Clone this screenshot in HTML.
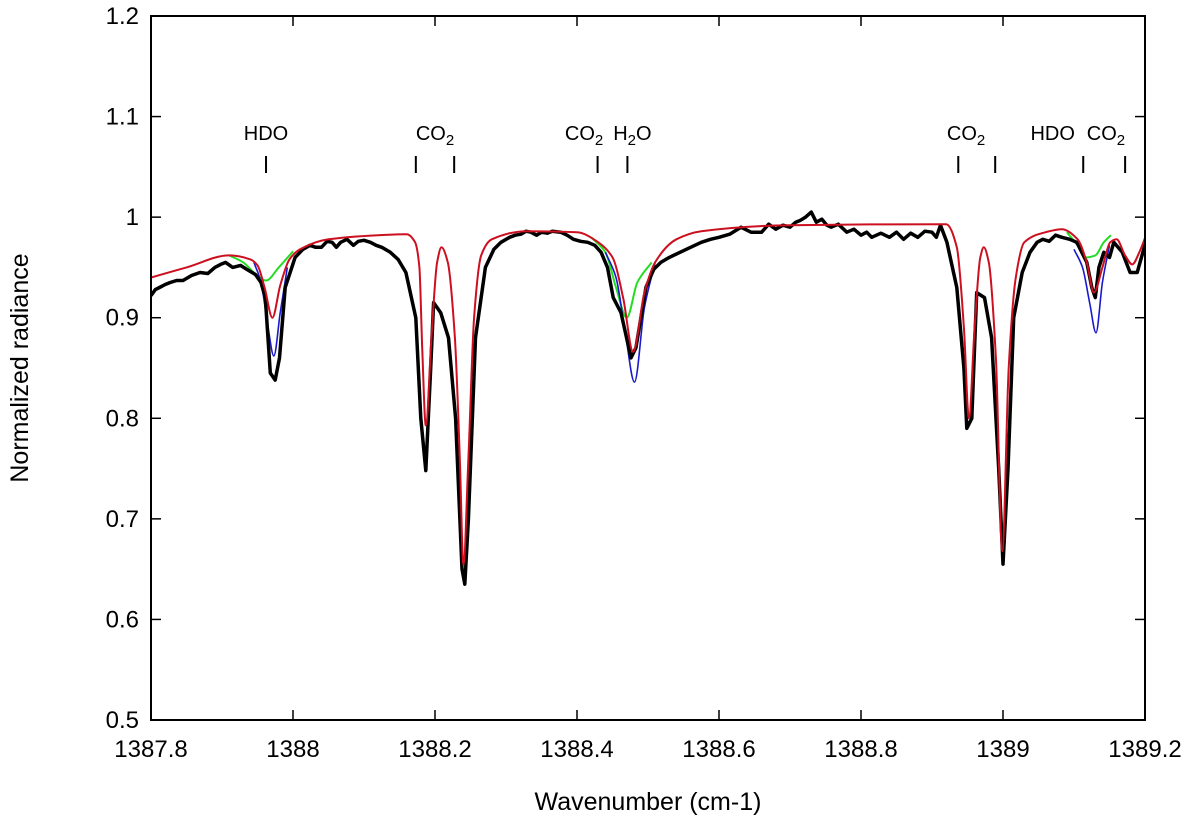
<!DOCTYPE html>
<html><head><meta charset="utf-8"><style>
html,body{margin:0;padding:0;background:#fff;}
svg{display:block;font-family:"Liberation Sans",sans-serif;}
</style></head><body>
<svg id="c" width="1200" height="826" viewBox="0 0 1200 826"></svg>
<script>
const xTicks=[1387.8,1388,1388.2,1388.4,1388.6,1388.8,1389,1389.2];
const xTickLabels=["1387.8","1388","1388.2","1388.4","1388.6","1388.8","1389","1389.2"];
const yTicks=[0.5,0.6,0.7,0.8,0.9,1,1.1,1.2];
const yTickLabels=["0.5","0.6","0.7","0.8","0.9","1","1.1","1.2"];
const obsX=[1387.800,1387.806,1387.812,1387.820,1387.827,1387.836,1387.845,1387.857,1387.869,1387.880,1387.890,1387.898,1387.905,1387.915,1387.926,1387.935,1387.947,1387.955,1387.961,1387.968,1387.975,1387.981,1387.989,1388.003,1388.014,1388.024,1388.032,1388.040,1388.048,1388.055,1388.061,1388.067,1388.076,1388.085,1388.092,1388.100,1388.109,1388.117,1388.125,1388.137,1388.148,1388.159,1388.173,1388.180,1388.187,1388.194,1388.198,1388.208,1388.219,1388.229,1388.238,1388.242,1388.247,1388.257,1388.271,1388.283,1388.293,1388.305,1388.313,1388.321,1388.328,1388.335,1388.343,1388.350,1388.358,1388.365,1388.377,1388.386,1388.395,1388.405,1388.415,1388.425,1388.434,1388.443,1388.451,1388.462,1388.476,1388.483,1388.497,1388.508,1388.518,1388.530,1388.545,1388.560,1388.575,1388.588,1388.600,1388.615,1388.631,1388.645,1388.660,1388.670,1388.680,1388.690,1388.700,1388.708,1388.715,1388.722,1388.730,1388.737,1388.745,1388.752,1388.758,1388.768,1388.780,1388.790,1388.800,1388.808,1388.815,1388.828,1388.840,1388.850,1388.860,1388.870,1388.880,1388.890,1388.900,1388.906,1388.912,1388.921,1388.935,1388.945,1388.949,1388.956,1388.963,1388.974,1388.984,1388.994,1389.000,1389.007,1389.015,1389.027,1389.038,1389.048,1389.056,1389.065,1389.074,1389.083,1389.094,1389.104,1389.118,1389.125,1389.130,1389.135,1389.142,1389.150,1389.156,1389.168,1389.179,1389.189,1389.203];
const obsY=[0.922,0.928,0.930,0.933,0.935,0.937,0.937,0.942,0.945,0.944,0.950,0.953,0.955,0.950,0.952,0.948,0.943,0.935,0.920,0.845,0.838,0.860,0.930,0.960,0.968,0.972,0.970,0.970,0.976,0.975,0.970,0.975,0.978,0.972,0.976,0.977,0.975,0.972,0.970,0.965,0.958,0.945,0.900,0.800,0.748,0.850,0.915,0.905,0.880,0.800,0.650,0.635,0.700,0.880,0.950,0.968,0.975,0.980,0.982,0.983,0.986,0.985,0.982,0.985,0.984,0.986,0.985,0.982,0.978,0.976,0.975,0.972,0.965,0.950,0.920,0.905,0.860,0.870,0.930,0.948,0.955,0.960,0.965,0.970,0.975,0.978,0.980,0.983,0.990,0.985,0.985,0.993,0.988,0.992,0.990,0.995,0.997,1.000,1.005,0.995,0.998,0.992,0.990,0.993,0.985,0.988,0.982,0.985,0.980,0.984,0.980,0.985,0.978,0.984,0.980,0.986,0.985,0.980,0.992,0.975,0.930,0.850,0.790,0.800,0.925,0.920,0.880,0.750,0.655,0.750,0.900,0.945,0.965,0.975,0.978,0.976,0.982,0.980,0.978,0.975,0.955,0.930,0.920,0.950,0.965,0.960,0.975,0.965,0.945,0.945,0.980];
const redX=[1387.800,1387.850,1387.910,1387.940,1387.950,1387.960,1387.971,1387.982,1387.995,1388.010,1388.050,1388.120,1388.160,1388.172,1388.178,1388.182,1388.187,1388.195,1388.203,1388.209,1388.218,1388.228,1388.235,1388.240,1388.247,1388.255,1388.265,1388.280,1388.330,1388.400,1388.430,1388.450,1388.465,1388.479,1388.495,1388.510,1388.540,1388.575,1388.700,1388.920,1388.935,1388.945,1388.952,1388.960,1388.968,1388.973,1388.980,1388.990,1388.999,1389.008,1389.018,1389.030,1389.060,1389.083,1389.105,1389.118,1389.128,1389.140,1389.151,1389.160,1389.172,1389.182,1389.192,1389.203];
const redY=[0.940,0.950,0.962,0.958,0.952,0.930,0.900,0.932,0.958,0.968,0.978,0.982,0.983,0.975,0.950,0.870,0.793,0.880,0.955,0.970,0.955,0.880,0.760,0.655,0.760,0.900,0.962,0.978,0.986,0.985,0.975,0.960,0.920,0.866,0.925,0.955,0.978,0.986,0.992,0.993,0.970,0.890,0.800,0.890,0.960,0.970,0.955,0.860,0.668,0.850,0.940,0.975,0.985,0.988,0.978,0.955,0.925,0.950,0.975,0.978,0.962,0.953,0.965,0.985];
const blueX=[1387.945,1387.955,1387.965,1387.973,1387.982,1387.992,1388.440,1388.455,1388.468,1388.481,1388.495,1388.510,1389.100,1389.112,1389.122,1389.131,1389.140,1389.150];
const blueY=[0.955,0.935,0.890,0.862,0.905,0.950,0.965,0.940,0.885,0.836,0.910,0.955,0.968,0.950,0.915,0.885,0.935,0.972];
const greenX=[1387.910,1387.930,1387.945,1387.962,1387.980,1388.000,1388.420,1388.440,1388.455,1388.470,1388.485,1388.505,1389.090,1389.105,1389.117,1389.130,1389.142,1389.152];
const greenY=[0.962,0.955,0.945,0.937,0.950,0.966,0.980,0.965,0.930,0.900,0.935,0.955,0.985,0.972,0.960,0.962,0.975,0.982];
const markers=[1387.962,1388.173,1388.227,1388.429,1388.471,1388.937,1388.989,1389.113,1389.172];
const markerLabels=[["HDO",1387.962],["CO2",1388.200],["CO2",1388.410],["H2O",1388.478],["CO2",1388.948],["HDO",1389.070],["CO2",1389.145]];

const L=151,R=1145,T=16,B=720;
const sx=v=>L+(v-1387.8)/(1.4)*(R-L);
const sy=v=>B-(v-0.5)/(0.7)*(B-T);
const NS="http://www.w3.org/2000/svg";
const svg=document.getElementById('c');
function mk(t,a,p){const e=document.createElementNS(NS,t);for(const k in a)e.setAttribute(k,a[k]);(p||svg).appendChild(e);return e;}
// monotone cubic (Fritsch-Carlson) path, no overshoot
function mono(xs,ys){
  const X=xs.map(sx),Y=ys.map(sy),n=X.length;
  if(n<2)return "";
  const d=[],m=new Array(n);
  for(let i=0;i<n-1;i++)d.push((Y[i+1]-Y[i])/(X[i+1]-X[i]));
  m[0]=d[0];m[n-1]=d[n-2];
  for(let i=1;i<n-1;i++){
    if(d[i-1]*d[i]<=0)m[i]=0;
    else{const h0=X[i]-X[i-1],h1=X[i+1]-X[i];const w1=2*h1+h0,w2=h1+2*h0;m[i]=(w1+w2)/(w1/d[i-1]+w2/d[i]);}
  }
  let p="M"+X[0].toFixed(1)+","+Y[0].toFixed(1);
  for(let i=0;i<n-1;i++){
    const h=(X[i+1]-X[i])/3;
    p+="C"+(X[i]+h).toFixed(1)+","+(Y[i]+m[i]*h).toFixed(1)+" "+(X[i+1]-h).toFixed(1)+","+(Y[i+1]-m[i+1]*h).toFixed(1)+" "+X[i+1].toFixed(1)+","+Y[i+1].toFixed(1);
  }
  return p;
}
function segPath(xs,ys){
  let out="",sX=[xs[0]],sY=[ys[0]];
  for(let i=1;i<xs.length;i++){
    if(xs[i]-xs[i-1]>0.1){out+=mono(sX,sY);sX=[];sY=[];}
    sX.push(xs[i]);sY.push(ys[i]);
  }
  return out+mono(sX,sY);
}
function poly(xs,ys){return "M"+xs.map((x,i)=>sx(x).toFixed(1)+","+sy(ys[i]).toFixed(1)).join("L");}

const clip=mk('clipPath',{id:'pc'});mk('rect',{x:L,y:T,width:R-L,height:B-T},clip);
const g=mk('g',{'clip-path':'url(#pc)'});


let e=mk('path',{d:segPath(greenX,greenY),fill:'none',stroke:'#22dd22','stroke-width':2},g);

e=mk('path',{d:segPath(blueX,blueY),fill:'none',stroke:'#1a1acc','stroke-width':1.6},g);

e=mk('path',{d:poly(obsX,obsY),fill:'none',stroke:'#000','stroke-width':3.5,'stroke-linejoin':'round'},g);

e=mk('path',{d:mono(redX,redY),fill:'none',stroke:'#cc1020','stroke-width':2},g);


e=mk('rect',{x:L,y:T,width:R-L,height:B-T,fill:'none',stroke:'#000','stroke-width':2});


xTicks.forEach((v,i)=>{
  const x=sx(v);
  let t=mk('line',{x1:x,x2:x,y1:B,y2:B-10,stroke:'#000','stroke-width':1.5});
  
  t=mk('line',{x1:x,x2:x,y1:T,y2:T+10,stroke:'#000','stroke-width':1.5});
  
  const tx=mk('text',{x:x,y:757,'text-anchor':'middle','font-size':24});
  tx.textContent=xTickLabels[i];
  
});
yTicks.forEach((v,i)=>{
  const y=sy(v);
  let t=mk('line',{x1:L,x2:L+10,y1:y,y2:y,stroke:'#000','stroke-width':1.5});
  
  t=mk('line',{x1:R,x2:R-10,y1:y,y2:y,stroke:'#000','stroke-width':1.5});
  
  const tx=mk('text',{x:139,y:y+8,'text-anchor':'end','font-size':24});
  tx.textContent=yTickLabels[i];
  
});
markers.forEach(v=>{
  const m=mk('line',{x1:sx(v),x2:sx(v),y1:156,y2:173,stroke:'#000','stroke-width':2});
  
});
markerLabels.forEach(([s,v])=>{
  const tx=mk('text',{x:sx(v),y:140,'text-anchor':'middle','font-size':20});
  
  if(s==="CO2"){tx.innerHTML='CO<tspan font-size="15" dy="5">2</tspan>';}
  else if(s==="H2O"){tx.innerHTML='H<tspan font-size="15" dy="5">2</tspan><tspan dy="-5">O</tspan>';}
  else tx.textContent=s;
});
let xt=mk('text',{x:648,y:810,'text-anchor':'middle','font-size':25});
xt.textContent='Wavenumber (cm-1)';

let yt=mk('text',{x:0,y:0,'text-anchor':'middle','font-size':25,transform:'translate(28,368) rotate(-90)'});
yt.textContent='Normalized radiance';

</script>
</body></html>
